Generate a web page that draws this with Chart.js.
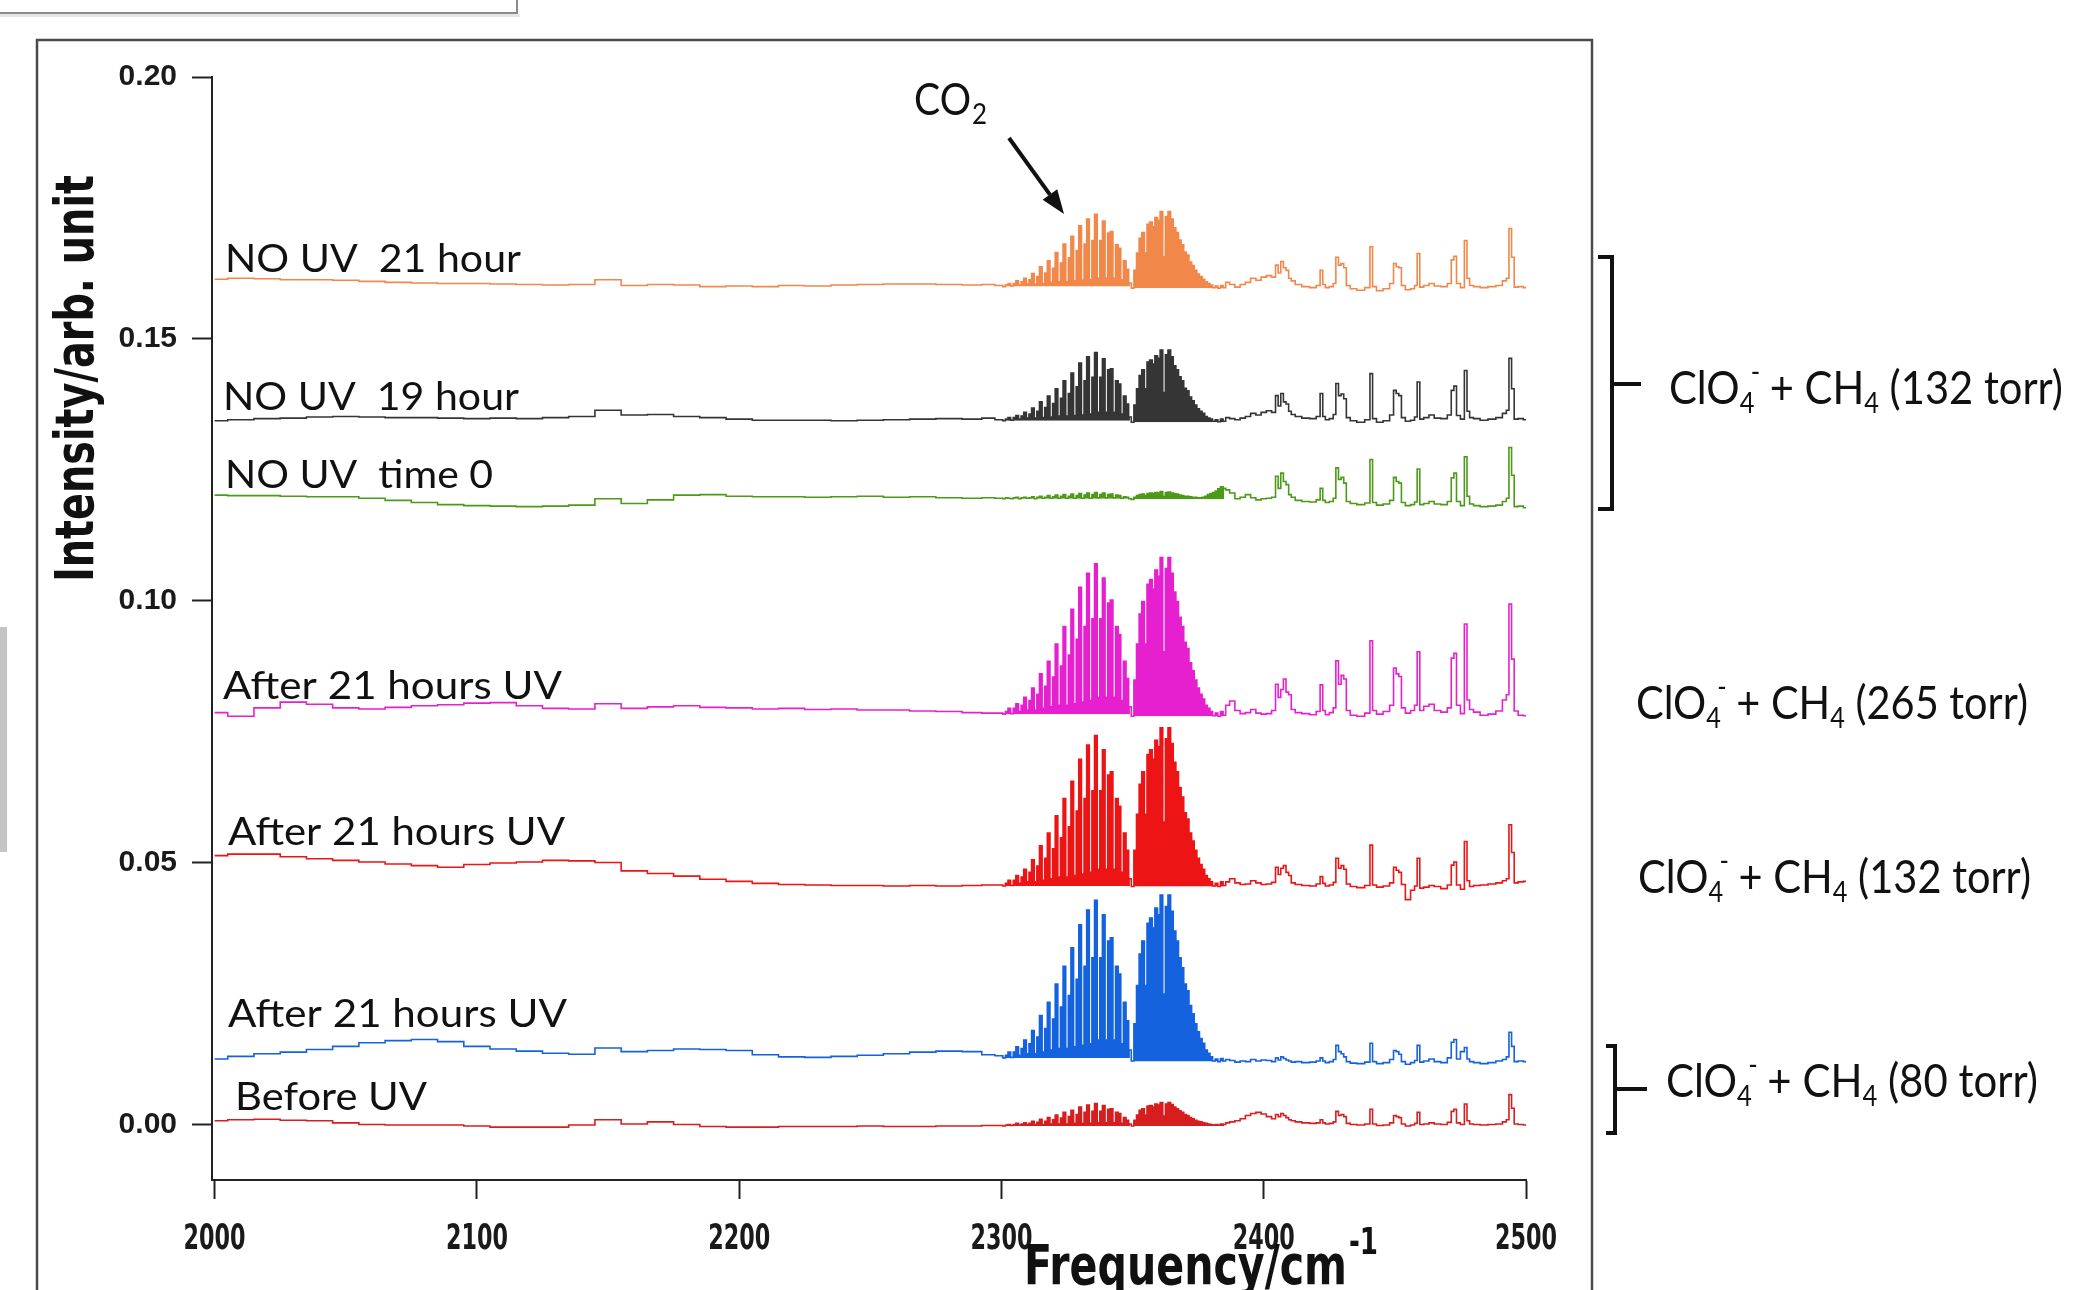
<!DOCTYPE html>
<html>
<head>
<meta charset="utf-8">
<script src="https://cdn.jsdelivr.net/npm/chart.js@4.4.1/dist/chart.umd.min.js"></script>
<style>
  html, body { margin: 0; padding: 0; background: #ffffff; }
  #c { position: absolute; left: 0; top: 0; }
</style>
</head>
<body>
<canvas id="c" width="2077" height="1290"></canvas>
<script>
// ---------------- DATA ----------------
const xTicks = [2000, 2100, 2200, 2300, 2400, 2500];
const yTicks = [0.00, 0.05, 0.10, 0.15, 0.20];
// CO2 P- and R-branch ranges (cm^-1) whose dense rotational lines render as filled bands
const bandRanges = [[2300, 2349], [2350, 2385]];

const freq = [
  2000,2010,2020,2030,2040,2050,2060,2070,2080,2090,
  2100,2110,2120,2130,2140,2150,2160,2170,2180,2190,
  2200,2210,2220,2230,2240,2250,2260,2270,2280,2290,
  2295,
  2300,2301,2302,2303,2304,2305,2306,2307,2308,2309,
  2310,2311,2312,2313,2314,2315,2316,2317,2318,2319,
  2320,2321,2322,2323,2324,2325,2326,2327,2328,2329,
  2330,2331,2332,2333,2334,2335,2336,2337,2338,2339,
  2340,2341,2342,2343,2344,2345,2346,2347,2348,2349,
  2350,2351,2352,2353,2354,2355,2356,2357,2358,2359,
  2360,2361,2362,2363,2364,2365,2366,2367,2368,2369,
  2370,2371,2372,2373,2374,2375,2376,2377,2378,2379,
  2380,2381,2382,2383,2384,2385,
  2386,2388,2390,2392,2394,2396,2398,2400,2402,2404,
  2405,2406,2407,2408,2409,2410,2411,
  2413,2416,2419,2421,2422,2423,2424,
  2426,2427,2428,2429,2430,2431,2432,
  2434,2437,2440,2441,2442,
  2444,2447,2449,2450,2451,2452,2453,
  2455,2457,2458,2459,2460,
  2462,2464,2466,2469,2471,2472,2473,2474,
  2476,2477,2478,2479,
  2481,2484,2487,2490,2492,2493,
  2494,2495,2496,2498,2500
];

const noUv21h = [
  0.1614,0.1616,0.1615,0.1613,0.1613,0.1612,0.1610,0.1608,0.1607,0.1606,
  0.1606,0.1605,0.1604,0.1603,0.1604,0.1613,0.1602,0.1604,0.1603,0.1600,
  0.1601,0.1600,0.1602,0.1601,0.1603,0.1604,0.1605,0.1605,0.1604,0.1603,
  0.1604,
  0.1602,0.1600,0.1603,0.1606,0.1601,0.1606,0.1611,0.1603,0.1609,0.1616,
  0.1605,0.1613,0.1625,0.1605,0.1619,0.1638,0.1606,0.1626,0.1649,0.1608,
  0.1635,0.1665,0.1609,0.1645,0.1681,0.1609,0.1655,0.1696,0.1611,0.1669,
  0.1716,0.1612,0.1681,0.1729,0.1613,0.1688,0.1738,0.1616,0.1688,0.1725,
  0.1616,0.1702,0.1705,0.1616,0.1680,0.1673,0.1613,0.1649,0.1633,0.1607,
  0.1597,0.1631,0.1664,0.1692,0.1703,0.1664,0.1719,0.1723,0.1714,0.1732,
  0.1726,0.1743,0.1657,0.1733,0.1743,0.1729,0.1712,0.1703,0.1689,0.1680,
  0.1666,0.1660,0.1647,0.1640,0.1631,0.1624,0.1619,0.1614,0.1609,0.1606,
  0.1603,0.1598,0.1601,0.1597,0.1602,0.1598,
  0.1608,0.1604,0.1599,0.1604,0.1608,0.1616,0.1612,0.1618,0.1621,0.1618,
  0.1641,0.1626,0.1648,0.1636,0.1631,0.1616,0.1611,
  0.1604,0.1600,0.1598,0.1602,0.1631,0.1604,0.1598,
  0.1600,0.1606,0.1656,0.1641,0.1644,0.1636,0.1602,
  0.1596,0.1593,0.1598,0.1676,0.1600,
  0.1592,0.1596,0.1606,0.1644,0.1638,0.1636,0.1602,
  0.1594,0.1596,0.1602,0.1663,0.1599,
  0.1602,0.1606,0.1601,0.1600,0.1606,0.1651,0.1658,0.1606,
  0.1598,0.1688,0.1616,0.1602,
  0.1600,0.1598,0.1600,0.1602,0.1611,0.1616,
  0.1711,0.1656,0.1599,0.1600,0.1598
];

const noUv19h = [
  0.1344,0.1346,0.1348,0.1349,0.1351,0.1352,0.1351,0.1350,0.1350,0.1349,
  0.1348,0.1349,0.1348,0.1350,0.1352,0.1364,0.1355,0.1356,0.1352,0.1350,
  0.1347,0.1345,0.1345,0.1345,0.1344,0.1345,0.1346,0.1347,0.1348,0.1347,
  0.1349,
  0.1346,0.1344,0.1347,0.1350,0.1345,0.1350,0.1354,0.1347,0.1353,0.1360,
  0.1349,0.1357,0.1368,0.1349,0.1362,0.1380,0.1350,0.1369,0.1391,0.1351,
  0.1377,0.1405,0.1353,0.1387,0.1420,0.1353,0.1396,0.1435,0.1354,0.1409,
  0.1454,0.1355,0.1420,0.1466,0.1357,0.1427,0.1474,0.1360,0.1427,0.1462,
  0.1360,0.1441,0.1443,0.1360,0.1420,0.1414,0.1357,0.1391,0.1376,0.1351,
  0.1341,0.1374,0.1405,0.1430,0.1441,0.1405,0.1456,0.1460,0.1452,0.1468,
  0.1463,0.1479,0.1398,0.1470,0.1479,0.1466,0.1449,0.1441,0.1428,0.1420,
  0.1406,0.1401,0.1389,0.1382,0.1374,0.1367,0.1362,0.1358,0.1352,0.1349,
  0.1347,0.1343,0.1346,0.1342,0.1347,0.1343,
  0.1350,0.1348,0.1346,0.1349,0.1352,0.1358,0.1355,0.1360,0.1363,0.1360,
  0.1392,0.1372,0.1396,0.1380,0.1376,0.1362,0.1356,
  0.1352,0.1349,0.1348,0.1352,0.1396,0.1352,0.1346,
  0.1348,0.1356,0.1415,0.1392,0.1395,0.1386,0.1350,
  0.1344,0.1341,0.1346,0.1434,0.1348,
  0.1341,0.1344,0.1355,0.1402,0.1396,0.1392,0.1350,
  0.1343,0.1345,0.1351,0.1418,0.1347,
  0.1350,0.1355,0.1349,0.1348,0.1355,0.1402,0.1410,0.1354,
  0.1347,0.1440,0.1362,0.1350,
  0.1348,0.1345,0.1347,0.1350,0.1358,0.1364,
  0.1463,0.1405,0.1347,0.1348,0.1346
];

const noUvTime0 = [
  0.1202,0.1201,0.1201,0.1200,0.1199,0.1199,0.1196,0.1192,0.1188,0.1184,
  0.1182,0.1181,0.1180,0.1181,0.1183,0.1195,0.1186,0.1193,0.1202,0.1203,
  0.1200,0.1199,0.1199,0.1198,0.1199,0.1200,0.1198,0.1199,0.1197,0.1196,
  0.1197,
  0.1196,0.1195,0.1197,0.1196,0.1195,0.1197,0.1198,0.1195,0.1197,0.1198,
  0.1196,0.1197,0.1199,0.1195,0.1198,0.1200,0.1196,0.1198,0.1201,0.1196,
  0.1199,0.1202,0.1196,0.1200,0.1203,0.1196,0.1200,0.1204,0.1196,0.1201,
  0.1205,0.1196,0.1202,0.1206,0.1196,0.1203,0.1207,0.1197,0.1203,0.1206,
  0.1197,0.1203,0.1204,0.1197,0.1202,0.1201,0.1196,0.1199,0.1198,0.1195,
  0.1194,0.1198,0.1201,0.1203,0.1204,0.1201,0.1205,0.1206,0.1205,0.1207,
  0.1206,0.1209,0.1200,0.1207,0.1208,0.1206,0.1205,0.1204,0.1202,0.1201,
  0.1200,0.1200,0.1199,0.1198,0.1198,0.1197,0.1197,0.1198,0.1200,0.1203,
  0.1205,0.1207,0.1210,0.1214,0.1218,0.1215,
  0.1212,0.1206,0.1195,0.1198,0.1203,0.1197,0.1193,0.1195,0.1196,0.1198,
  0.1238,0.1215,0.1244,0.1228,0.1222,0.1203,0.1198,
  0.1192,0.1190,0.1189,0.1193,0.1215,0.1192,0.1188,
  0.1190,0.1196,0.1254,0.1232,0.1236,0.1225,0.1190,
  0.1186,0.1184,0.1187,0.1270,0.1188,
  0.1183,0.1185,0.1192,0.1236,0.1228,0.1225,0.1188,
  0.1182,0.1184,0.1189,0.1252,0.1184,
  0.1186,0.1190,0.1185,0.1184,0.1190,0.1235,0.1244,0.1190,
  0.1182,0.1275,0.1200,0.1185,
  0.1182,0.1180,0.1181,0.1183,0.1190,0.1196,
  0.1293,0.1240,0.1180,0.1181,0.1178
];

const uv265 = [
  0.0787,0.0780,0.0796,0.0807,0.0803,0.0796,0.0794,0.0797,0.0800,0.0802,
  0.0805,0.0806,0.0800,0.0795,0.0794,0.0804,0.0795,0.0798,0.0800,0.0797,
  0.0796,0.0794,0.0795,0.0793,0.0794,0.0792,0.0792,0.0790,0.0789,0.0787,
  0.0786,
  0.0786,0.0784,0.0789,0.0795,0.0785,0.0795,0.0804,0.0789,0.0801,0.0816,
  0.0792,0.0810,0.0834,0.0792,0.0822,0.0861,0.0795,0.0837,0.0885,0.0798,
  0.0855,0.0918,0.0801,0.0876,0.0951,0.0801,0.0897,0.0984,0.0804,0.0927,
  0.1026,0.0807,0.0951,0.1053,0.0810,0.0966,0.1071,0.0816,0.0966,0.1044,
  0.0816,0.0996,0.1002,0.0816,0.0951,0.0936,0.0810,0.0885,0.0852,0.0798,
  0.0780,0.0849,0.0918,0.0975,0.0999,0.0918,0.1032,0.1041,0.1023,0.1059,
  0.1047,0.1083,0.0903,0.1062,0.1083,0.1053,0.1017,0.0999,0.0969,0.0951,
  0.0921,0.0909,0.0882,0.0867,0.0849,0.0834,0.0822,0.0813,0.0801,0.0795,
  0.0789,0.0781,0.0786,0.0780,0.0789,0.0782,
  0.0801,0.0809,0.0791,0.0785,0.0787,0.0793,0.0786,0.0784,0.0785,0.0791,
  0.0841,0.0816,0.0831,0.0851,0.0826,0.0821,0.0793,
  0.0787,0.0785,0.0783,0.0789,0.0840,0.0791,0.0783,
  0.0787,0.0796,0.0886,0.0841,0.0858,0.0851,0.0791,
  0.0782,0.0780,0.0786,0.0924,0.0791,
  0.0784,0.0789,0.0801,0.0872,0.0861,0.0856,0.0796,
  0.0786,0.0791,0.0801,0.0903,0.0791,
  0.0799,0.0803,0.0791,0.0788,0.0796,0.0891,0.0900,0.0801,
  0.0785,0.0956,0.0811,0.0793,
  0.0788,0.0782,0.0784,0.0790,0.0811,0.0821,
  0.0994,0.0889,0.0790,0.0782,0.0781
];

const uv132 = [
  0.0514,0.0517,0.0517,0.0512,0.0508,0.0505,0.0502,0.0498,0.0495,0.0492,
  0.0497,0.0500,0.0502,0.0505,0.0504,0.0501,0.0485,0.0480,0.0475,0.0469,
  0.0465,0.0461,0.0459,0.0458,0.0457,0.0457,0.0456,0.0457,0.0456,0.0457,
  0.0458,
  0.0458,0.0456,0.0461,0.0467,0.0457,0.0467,0.0476,0.0461,0.0473,0.0488,
  0.0464,0.0482,0.0506,0.0464,0.0494,0.0533,0.0467,0.0509,0.0557,0.0470,
  0.0527,0.0590,0.0473,0.0548,0.0623,0.0473,0.0569,0.0656,0.0476,0.0599,
  0.0698,0.0479,0.0623,0.0725,0.0482,0.0638,0.0743,0.0488,0.0638,0.0716,
  0.0488,0.0668,0.0674,0.0488,0.0623,0.0608,0.0482,0.0557,0.0524,0.0470,
  0.0455,0.0524,0.0593,0.0650,0.0674,0.0593,0.0707,0.0716,0.0698,0.0734,
  0.0722,0.0758,0.0578,0.0737,0.0758,0.0728,0.0692,0.0674,0.0644,0.0626,
  0.0596,0.0584,0.0557,0.0542,0.0524,0.0509,0.0497,0.0488,0.0476,0.0470,
  0.0464,0.0456,0.0461,0.0455,0.0464,0.0457,
  0.0464,0.0470,0.0462,0.0459,0.0460,0.0466,0.0462,0.0459,0.0460,0.0463,
  0.0492,0.0478,0.0490,0.0495,0.0482,0.0476,0.0462,
  0.0459,0.0457,0.0456,0.0460,0.0474,0.0461,0.0456,
  0.0458,0.0463,0.0509,0.0490,0.0495,0.0488,0.0460,
  0.0455,0.0453,0.0457,0.0534,0.0458,
  0.0454,0.0456,0.0462,0.0492,0.0486,0.0482,0.0459,
  0.0430,0.0448,0.0456,0.0509,0.0452,
  0.0454,0.0457,0.0455,0.0451,0.0458,0.0496,0.0502,0.0458,
  0.0450,0.0541,0.0466,0.0455,
  0.0457,0.0458,0.0460,0.0462,0.0466,0.0470,
  0.0573,0.0520,0.0462,0.0464,0.0465
];

const uv80 = [
  0.0126,0.0131,0.0136,0.0139,0.0144,0.0150,0.0157,0.0161,0.0163,0.0159,
  0.0150,0.0145,0.0141,0.0137,0.0135,0.0147,0.0140,0.0142,0.0145,0.0144,
  0.0142,0.0134,0.0130,0.0129,0.0131,0.0133,0.0136,0.0139,0.0141,0.0140,
  0.0134,
  0.0132,0.0128,0.0133,0.0139,0.0129,0.0139,0.0149,0.0133,0.0146,0.0162,
  0.0136,0.0155,0.0180,0.0136,0.0168,0.0209,0.0139,0.0184,0.0234,0.0143,
  0.0202,0.0269,0.0146,0.0225,0.0303,0.0146,0.0247,0.0338,0.0149,0.0278,
  0.0382,0.0152,0.0303,0.0410,0.0155,0.0319,0.0429,0.0162,0.0319,0.0401,
  0.0162,0.0351,0.0357,0.0162,0.0303,0.0288,0.0155,0.0234,0.0199,0.0143,
  0.0122,0.0193,0.0266,0.0326,0.0351,0.0266,0.0385,0.0395,0.0376,0.0414,
  0.0401,0.0439,0.0250,0.0417,0.0439,0.0408,0.0370,0.0351,0.0319,0.0300,
  0.0269,0.0256,0.0228,0.0212,0.0193,0.0178,0.0165,0.0156,0.0143,0.0137,
  0.0130,0.0122,0.0126,0.0121,0.0127,0.0122,
  0.0125,0.0123,0.0120,0.0122,0.0121,0.0125,0.0122,0.0124,0.0123,0.0121,
  0.0128,0.0124,0.0130,0.0127,0.0124,0.0122,0.0120,
  0.0121,0.0119,0.0120,0.0122,0.0128,0.0122,0.0119,
  0.0121,0.0125,0.0152,0.0140,0.0136,0.0130,0.0121,
  0.0118,0.0117,0.0120,0.0156,0.0121,
  0.0117,0.0119,0.0125,0.0142,0.0140,0.0135,0.0121,
  0.0116,0.0119,0.0123,0.0152,0.0120,
  0.0122,0.0126,0.0121,0.0119,0.0128,0.0158,0.0163,0.0126,
  0.0140,0.0148,0.0126,0.0121,
  0.0119,0.0117,0.0119,0.0122,0.0125,0.0130,
  0.0177,0.0150,0.0121,0.0122,0.0121
];

const beforeUv = [
  0.0008,0.0010,0.0011,0.0009,0.0008,0.0004,0.0001,0.0000,0.0000,0.0000,
  -0.0002,-0.0004,-0.0004,-0.0004,0.0000,0.0010,0.0002,0.0006,0.0001,-0.0003,
  -0.0004,-0.0004,-0.0003,-0.0003,-0.0003,-0.0002,-0.0003,-0.0003,-0.0002,-0.0002,
  -0.0001,
  -0.0001,-0.0002,0.0000,0.0001,-0.0001,0.0001,0.0003,0.0000,0.0002,0.0004,
  0.0001,0.0003,0.0007,0.0001,0.0005,0.0011,0.0001,0.0007,0.0014,0.0002,
  0.0010,0.0019,0.0002,0.0013,0.0024,0.0002,0.0016,0.0028,0.0003,0.0020,
  0.0034,0.0003,0.0024,0.0038,0.0003,0.0026,0.0041,0.0004,0.0026,0.0037,
  0.0004,0.0030,0.0031,0.0004,0.0024,0.0022,0.0003,0.0014,0.0009,0.0002,
  -0.0002,0.0009,0.0019,0.0028,0.0031,0.0019,0.0036,0.0037,0.0034,0.0040,
  0.0038,0.0043,0.0017,0.0040,0.0043,0.0039,0.0034,0.0031,0.0027,0.0024,
  0.0020,0.0018,0.0014,0.0012,0.0009,0.0007,0.0006,0.0004,0.0003,0.0002,
  0.0001,0.0000,0.0001,0.0000,0.0002,0.0001,
  0.0004,0.0006,0.0008,0.0012,0.0018,0.0022,0.0024,0.0021,0.0016,0.0012,
  0.0020,0.0016,0.0022,0.0018,0.0014,0.0010,0.0008,
  0.0006,0.0004,0.0003,0.0004,0.0010,0.0004,0.0002,
  0.0003,0.0006,0.0026,0.0018,0.0020,0.0016,0.0003,
  0.0001,0.0000,0.0002,0.0030,0.0002,
  -0.0001,0.0000,0.0004,0.0018,0.0016,0.0014,0.0002,
  -0.0002,0.0000,0.0003,0.0024,0.0001,
  0.0002,0.0004,0.0002,0.0001,0.0005,0.0026,0.0030,0.0004,
  0.0001,0.0040,0.0008,0.0002,
  0.0001,0.0000,0.0001,0.0002,0.0006,0.0010,
  0.0058,0.0032,0.0002,0.0001,0.0000
];

const seriesNames  = ['NO UV  21 hour', 'NO UV  19 hour', 'NO UV  time 0',
                      'After 21 hours UV', 'After 21 hours UV', 'After 21 hours UV', 'Before UV'];
const seriesValues = [noUv21h, noUv19h, noUvTime0, uv265, uv132, uv80, beforeUv];
const seriesColors = ['#F2874A', '#353535', '#4C9A18', '#E620CF', '#EC1414', '#1462DE', '#D61E1E'];

// ---------------- DRAWING HELPERS ----------------
const SANS = '"Lato", "Open Sans", sans-serif';
const NARROW = '"Liberation Sans Narrow", "DejaVu Sans Condensed", "Liberation Sans", sans-serif';

function fitText(ctx, text, x, y, font, width, color, center) {
  ctx.save();
  ctx.font = font;
  ctx.textBaseline = 'alphabetic';
  ctx.textAlign = 'left';
  const w = ctx.measureText(text).width;
  ctx.translate(center ? x - width / 2 : x, y);
  ctx.scale(width / w, 1);
  ctx.fillStyle = color || '#111';
  ctx.fillText(text, 0, 0);
  ctx.restore();
}

// chemical formula: ClO4^- + CH4 (xxx torr)
function formula(ctx, tail, x, y, width) {
  const big = 'normal 46px ' + SANS;
  const small = 'normal 28px ' + SANS;
  const segs = [
    {t: 'ClO', f: big, dy: 0},
    {t: '4', f: small, dy: 9, sup: '-'},
    {t: ' + CH', f: big, dy: 0},
    {t: '4', f: small, dy: 9},
    {t: ' ' + tail, f: big, dy: 0}
  ];
  ctx.save();
  let total = 0;
  const widths = segs.map(s => {
    ctx.font = s.f;
    let w = ctx.measureText(s.t).width;
    if (s.sup) { w += ctx.measureText(s.sup).width * 0.5; }
    total += w;
    return w;
  });
  ctx.translate(x, y);
  ctx.scale(width / total, 1);
  ctx.fillStyle = '#111';
  ctx.textBaseline = 'alphabetic';
  let cx = 0;
  segs.forEach((s, i) => {
    ctx.font = s.f;
    ctx.fillText(s.t, cx, s.dy);
    if (s.sup) {
      const w4 = ctx.measureText(s.t).width;
      ctx.fillText(s.sup, cx + w4 * 0.75, -22);
    }
    cx += widths[i];
  });
  ctx.restore();
}

const decorPlugin = {
  id: 'decor',
  beforeDraw(chart) {
    const ctx = chart.ctx;
    ctx.save();
    ctx.fillStyle = '#ffffff';
    ctx.fillRect(0, 0, chart.width, chart.height);
    ctx.fillStyle = '#e6e6e6';
    ctx.fillRect(0, 14, 520, 3);
    ctx.strokeStyle = '#8c8c8c';
    ctx.lineWidth = 2;
    ctx.strokeRect(-4, -4, 521, 17);
    ctx.fillStyle = '#c4c4c4';
    ctx.fillRect(0, 627, 7, 225);
    ctx.strokeStyle = '#4a4a4a';
    ctx.lineWidth = 2.5;
    ctx.strokeRect(37, 40, 1555, 1300);
    ctx.restore();
  },
  afterDraw(chart) {
    const ctx = chart.ctx;
    // x tick labels (condensed bold), placed through the x scale
    const xs = chart.scales.x;
    xTicks.forEach(v => fitText(ctx, String(v), xs.getPixelForValue(v), 1249, 'bold 35px ' + NARROW, 62, '#1a1a1a', true));

    const lab = [
      [seriesNames[0], 225, 272, 296],
      [seriesNames[1], 223, 410, 296],
      [seriesNames[2], 225, 488, 268],
      [seriesNames[3], 223, 699, 339],
      [seriesNames[4], 228, 845, 337],
      [seriesNames[5], 228, 1027, 339],
      [seriesNames[6], 235, 1110, 192]
    ];
    lab.forEach(l => fitText(ctx, l[0], l[1], l[2], 'normal 39px ' + SANS, l[3], '#111'));

    fitText(ctx, 'CO', 914, 115, 'normal 45px ' + SANS, 57, '#111');
    fitText(ctx, '2', 972, 124, 'normal 28px ' + SANS, 15, '#111');
    ctx.save();
    ctx.strokeStyle = '#111';
    ctx.fillStyle = '#111';
    ctx.lineWidth = 4;
    const x0 = 1009, y0 = 138, x1 = 1064, y1 = 214;
    const ang = Math.atan2(y1 - y0, x1 - x0);
    const hl = 24, hw = 9;
    const bx = x1 - hl * Math.cos(ang), by = y1 - hl * Math.sin(ang);
    ctx.beginPath(); ctx.moveTo(x0, y0); ctx.lineTo(bx, by); ctx.stroke();
    ctx.beginPath();
    ctx.moveTo(x1, y1);
    ctx.lineTo(bx + hw * Math.sin(ang), by - hw * Math.cos(ang));
    ctx.lineTo(bx - hw * Math.sin(ang), by + hw * Math.cos(ang));
    ctx.closePath(); ctx.fill();
    ctx.restore();

    ctx.save();
    ctx.translate(93, 582);
    ctx.rotate(-Math.PI / 2);
    fitText(ctx, 'Intensity/arb. unit', 0, 0, 'bold 53px ' + NARROW, 407, '#111');
    ctx.restore();
    fitText(ctx, 'Frequency/cm', 1024, 1284, 'bold 55px ' + NARROW, 323, '#111');
    fitText(ctx, '-1', 1349, 1254, 'bold 38px ' + NARROW, 29, '#111');

    ctx.save();
    ctx.strokeStyle = '#111';
    ctx.lineWidth = 4;
    ctx.beginPath();
    ctx.moveTo(1598, 257); ctx.lineTo(1612, 257); ctx.lineTo(1612, 509); ctx.lineTo(1598, 509);
    ctx.moveTo(1612, 384); ctx.lineTo(1641, 384);
    ctx.moveTo(1606, 1046); ctx.lineTo(1615, 1046); ctx.lineTo(1615, 1133); ctx.lineTo(1606, 1133);
    ctx.moveTo(1615, 1089); ctx.lineTo(1647, 1089);
    ctx.stroke();
    ctx.restore();

    formula(ctx, '(132 torr)', 1669, 404, 394);
    formula(ctx, '(265 torr)', 1636, 719, 392);
    formula(ctx, '(132 torr)', 1638, 893, 393);
    formula(ctx, '(80 torr)', 1666, 1097, 372);
  }
};

// band fill datasets (dense CO2 rotational lines appear as solid bands)
const fillSets = [];
seriesValues.forEach((vals, k) => {
  bandRanges.forEach(r => {
    const i0 = freq.indexOf(r[0]), i1 = freq.indexOf(r[1]);
    const pts = [];
    for (let i = i0; i <= i1; i++) pts.push({x: freq[i], y: vals[i]});
    const floor = Math.min(...pts.map(p => p.y));
    fillSets.push({
      label: seriesNames[k] + ' band',
      data: pts,
      borderWidth: 0,
      borderColor: 'rgba(0,0,0,0)',
      backgroundColor: seriesColors[k],
      pointRadius: 0,
      stepped: 'middle',
      fill: {value: floor, above: seriesColors[k], below: 'rgba(0,0,0,0)'}
    });
  });
});

const lineSets = seriesValues.map((vals, k) => ({
  label: seriesNames[k],
  data: freq.map((f, i) => ({x: f, y: vals[i]})),
  borderColor: seriesColors[k],
  backgroundColor: seriesColors[k],
  borderWidth: 1.6,
  pointRadius: 0,
  stepped: 'middle',
  fill: false
}));

new Chart(document.getElementById('c'), {
  type: 'line',
  data: { datasets: fillSets.concat(lineSets) },
  options: {
    responsive: false,
    animation: false,
    devicePixelRatio: 1,
    events: [],
    layout: { padding: { left: 62, right: 551, top: 77, bottom: 30 } },
    plugins: { legend: { display: false }, tooltip: { enabled: false } },
    scales: {
      x: {
        type: 'linear',
        min: 1999,
        max: 2500,
        afterBuildTicks: s => { s.ticks = xTicks.map(v => ({value: v})); },
        afterFit: s => { s.height = 80; },
        ticks: { display: false, autoSkip: false, maxRotation: 0 },
        grid: { display: true, drawOnChartArea: false, drawTicks: true, tickLength: 19, tickWidth: 2, tickColor: '#222', color: '#222' },
        border: { display: true, color: '#222', width: 2 }
      },
      y: {
        type: 'linear',
        min: -0.0105,
        max: 0.20,
        afterBuildTicks: s => { s.ticks = yTicks.map(v => ({value: v})); },
        afterFit: s => { s.width = 150; },
        ticks: {
          padding: 15,
          color: '#1a1a1a',
          font: { family: '"Liberation Sans", Arial, sans-serif', size: 30, weight: 'bold' },
          callback: v => v.toFixed(2)
        },
        grid: { display: true, drawOnChartArea: false, drawTicks: true, tickLength: 20, tickWidth: 2, tickColor: '#222', color: '#222' },
        border: { display: true, color: '#222', width: 2 }
      }
    }
  },
  plugins: [decorPlugin]
});
</script>
</body>
</html>
